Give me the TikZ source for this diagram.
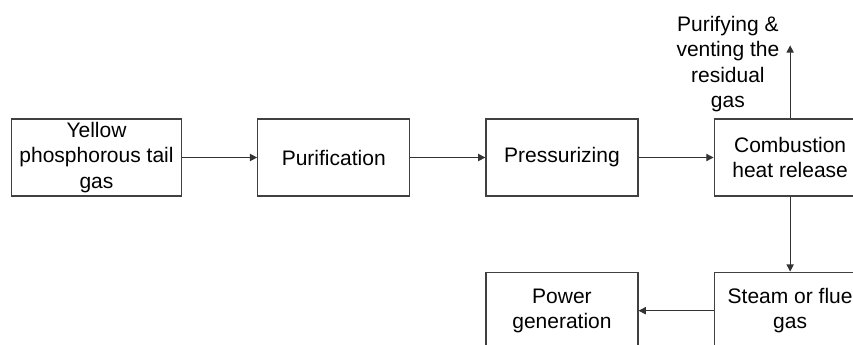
\documentclass[tikz,border=0pt]{standalone}
\usepackage{fontspec}
\setmainfont{Liberation Sans}
\usetikzlibrary{positioning, arrows.meta}

\begin{document}
\begin{tikzpicture}[
		box/.style={draw=black!75, line width=0.6pt, minimum width=76pt, minimum height=38.5pt,
			inner xsep=4pt, inner ysep=1pt, align=center},
		flow/.style={draw=black!80, line width=0.6pt, -{Triangle[length=3.6pt, width=3.6pt]}},
		node distance=37.5pt]
		\useasboundingbox (0,0) rectangle (426.5pt,-172pt);
		\fontsize{10.5}{12.75}\selectfont
		\node[box] (yellow) at (48.25pt,-78.75pt) {Yellow\\phosphorous tail\\gas};
		\node[box, right=of yellow] (purif) {Purification};
		\node[box, right=of purif] (press) {Pressurizing};
		\node[box, right=of press] (comb) {Combustion\\heat release};
		\node[box, below=of comb] (steam) {Steam or flue\\gas};
		\node[box, left=of steam] (power) {Power\\generation};
		
		\coordinate[above=36.5pt of comb.north] (vent);
		\node[align=center, inner sep=0pt, anchor=north east] (residual) at ([xshift=-5.25pt, yshift=15pt]vent) {Purifying \&\\venting the\\residual\\gas};
		
		\draw[flow] (yellow) -- (purif);
		\draw[flow] (purif) -- (press);
		\draw[flow] (press) -- (comb);
		\draw[flow] (comb) -- (vent);
		\draw[flow] (comb) -- (steam);
		\draw[flow] (steam) -- (power);
	\end{tikzpicture}
\end{document}
